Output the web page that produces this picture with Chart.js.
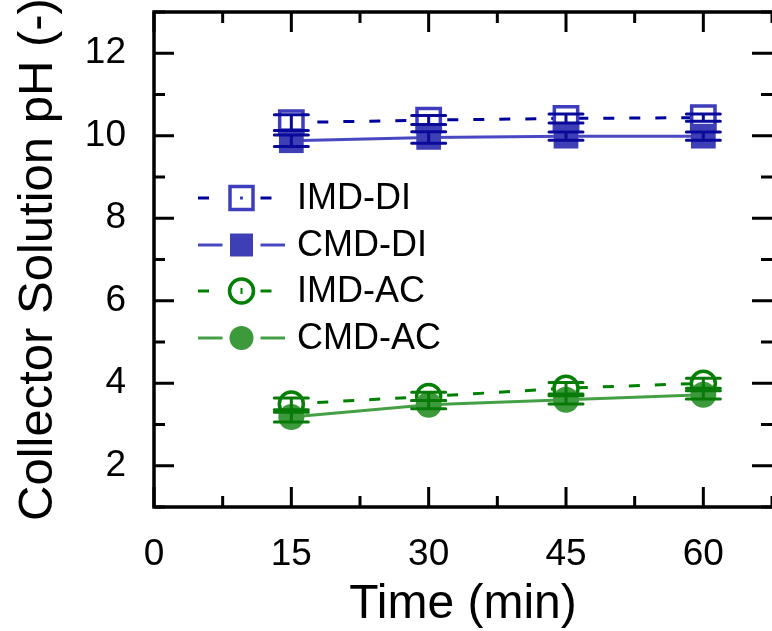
<!DOCTYPE html>
<html>
<head>
<meta charset="utf-8">
<script src="https://cdn.jsdelivr.net/npm/chart.js@4/dist/chart.umd.min.js"></script>
<style>
  html, body { margin: 0; padding: 0; overflow: hidden; background: #fff; width: 772px; height: 631px; }
  canvas { display: block; }
</style>
</head>
<body>
<canvas id="c" width="772" height="631"></canvas>
<script>
// Sampling times (min)
const times = [15, 30, 45, 60];

// Collector solution pH for each configuration
const imdDI = [10.32, 10.38, 10.42, 10.44];
const cmdDI = [9.88, 9.96, 9.99, 9.99];
const imdAC = [3.50, 3.68, 3.88, 4.00];
const cmdAC = [3.18, 3.48, 3.60, 3.72];

// Standard deviations
const imdDIErr = [0.19, 0.11, 0.11, 0.09];
const cmdDIErr = [0.14, 0.14, 0.10, 0.10];
const imdACErr = [0.14, 0.10, 0.14, 0.12];
const cmdACErr = [0.12, 0.10, 0.10, 0.10];

// Series names
const seriesNames = ['IMD-DI', 'CMD-DI', 'IMD-AC', 'CMD-AC'];

// Axis tick labels
const xTickLabels = [0, 15, 30, 45, 60];
const yTickLabels = [2, 4, 6, 8, 10, 12];

const FONT = "'Liberation Sans', Arial, sans-serif";

const pts = (vals) => times.map((t, i) => ({ x: t, y: vals[i] }));

// Frame (left, top, bottom spines; right spine lies just past the canvas edge)
// with inward major/minor ticks on all four sides
const framePlugin = {
  id: 'frame',
  afterDraw(chart) {
    const { ctx, chartArea: a, scales: { x, y } } = chart;
    ctx.save();
    ctx.strokeStyle = '#000';
    ctx.lineCap = 'butt';
    ctx.lineWidth = 3;
    const MAJ = 20, MIN = 11;
    for (let v = 1; v <= 13; v += 1) {
      const py = y.getPixelForValue(v);
      const len = (v % 2 === 0) ? MAJ : MIN;
      ctx.beginPath();
      ctx.moveTo(a.left, py); ctx.lineTo(a.left + len, py);
      ctx.moveTo(a.right, py); ctx.lineTo(a.right - len, py);
      ctx.stroke();
    }
    for (let v = 0; v <= 67.5; v += 7.5) {
      const px = x.getPixelForValue(v);
      const len = (v % 15 === 0) ? MAJ : MIN;
      ctx.beginPath();
      ctx.moveTo(px, a.bottom); ctx.lineTo(px, a.bottom - len);
      ctx.moveTo(px, a.top); ctx.lineTo(px, a.top + len);
      ctx.stroke();
    }
    ctx.lineWidth = 3.5;
    ctx.lineJoin = 'miter';
    ctx.beginPath();
    ctx.moveTo(a.right + 2, a.top);
    ctx.lineTo(a.left, a.top);
    ctx.lineTo(a.left, a.bottom);
    ctx.lineTo(a.right + 2, a.bottom);
    ctx.stroke();
    ctx.restore();
  }
};

// Vertical error bars with caps
const errorBarPlugin = {
  id: 'errorBars',
  afterDatasetsDraw(chart) {
    const { ctx, scales: { x, y } } = chart;
    chart.data.datasets.forEach((ds) => {
      if (!ds.errors) return;
      ctx.save();
      ctx.strokeStyle = ds.errorColor;
      ctx.lineWidth = 3;
      ctx.lineCap = 'round';
      ds.data.forEach((p, j) => {
        const e = ds.errors[j];
        const px = x.getPixelForValue(p.x);
        const yt = y.getPixelForValue(p.y + e);
        const yb = y.getPixelForValue(p.y - e);
        const cw = 17;
        ctx.beginPath();
        ctx.moveTo(px, yt); ctx.lineTo(px, yb);
        ctx.moveTo(px - cw, yt); ctx.lineTo(px + cw, yt);
        ctx.moveTo(px - cw, yb); ctx.lineTo(px + cw, yb);
        ctx.stroke();
      });
      ctx.restore();
    });
  }
};

// Legend drawn inside the plot: line - symbol - line, then the name
const legendPlugin = {
  id: 'insideLegend',
  afterDraw(chart) {
    const { ctx } = chart;
    const rowsY = [198, 245, 291, 338];
    const x0 = 198, x1 = 285, mx = 241.5, gap = 19;
    chart.data.datasets.forEach((ds, i) => {
      const yy = rowsY[i];
      ctx.save();
      ctx.strokeStyle = ds.borderColor;
      ctx.lineWidth = 3;
      ctx.setLineDash(ds.borderDash || []);
      ctx.beginPath();
      ctx.moveTo(x0, yy); ctx.lineTo(mx - gap, yy);
      ctx.stroke();
      ctx.beginPath();
      ctx.moveTo(mx + gap, yy); ctx.lineTo(x1, yy);
      ctx.stroke();
      ctx.setLineDash([]);
      ctx.lineWidth = ds.pointBorderWidth;
      ctx.strokeStyle = ds.pointBorderColor;
      ctx.fillStyle = ds.pointBackgroundColor;
      const half = ds.pointStyle === 'rect' ? 11.5 : 12;
      ctx.beginPath();
      if (ds.pointStyle === 'rect') {
        ctx.rect(mx - half, yy - half, half * 2, half * 2);
      } else {
        ctx.arc(mx, yy, half, 0, Math.PI * 2);
      }
      ctx.fill();
      if (ds.pointBorderWidth > 0) ctx.stroke();
      if (ds.hollow) {
        ctx.fillStyle = ds.pointBorderColor;
        if (ds.pointStyle === 'rect') {
          ctx.fillRect(mx - 1.5, yy - 1.5, 3, 3);
        } else {
          ctx.fillRect(mx - 1, yy - 3, 2, 6);
        }
      }
      ctx.fillStyle = '#000';
      ctx.font = `36px ${FONT}`;
      ctx.textAlign = 'left';
      ctx.textBaseline = 'middle';
      ctx.fillText(ds.label, 297, yy + 1);
      ctx.restore();
    });
  }
};

const chart = new Chart(document.getElementById('c'), {
  type: 'line',
  data: {
    datasets: [
      {
        label: seriesNames[0], data: pts(imdDI), errors: imdDIErr, errorColor: '#0a0a9a',
        borderColor: '#00009c', borderWidth: 3, borderDash: [11, 15],
        pointStyle: 'rect', pointRadius: 16.5, pointBorderWidth: 3.5,
        pointBorderColor: '#3d3dbd', pointBackgroundColor: '#ffffff', hollow: true, order: 4
      },
      {
        label: seriesNames[1], data: pts(cmdDI), errors: cmdDIErr, errorColor: '#0a0a9a',
        borderColor: '#4848c2', borderWidth: 3,
        pointStyle: 'rect', pointRadius: 17.5, pointBorderWidth: 0,
        pointBorderColor: '#3e3eb6', pointBackgroundColor: '#3e3eb6', order: 3
      },
      {
        label: seriesNames[2], data: pts(imdAC), errors: imdACErr, errorColor: '#087a08',
        borderColor: '#008000', borderWidth: 3, borderDash: [11, 15],
        pointStyle: 'circle', pointRadius: 12, pointBorderWidth: 3.5,
        pointBorderColor: '#048004', pointBackgroundColor: '#ffffff', hollow: true, order: 2
      },
      {
        label: seriesNames[3], data: pts(cmdAC), errors: cmdACErr, errorColor: '#087a08',
        borderColor: '#45a045', borderWidth: 3,
        pointStyle: 'circle', pointRadius: 13, pointBorderWidth: 0,
        pointBorderColor: '#3c9a3c', pointBackgroundColor: '#3c9a3c', order: 1
      }
    ]
  },
  options: {
    responsive: false,
    animation: false,
    events: [],
    layout: { autoPadding: false, padding: { left: 0, top: 12, right: -1, bottom: 0 } },
    plugins: { legend: { display: false }, tooltip: { enabled: false } },
    scales: {
      x: {
        type: 'linear', min: 0, max: 67.5,
        grid: { display: false }, border: { display: false },
        ticks: {
          stepSize: 7.5, autoSkip: false, maxRotation: 0, padding: 18,
          color: '#000', font: { family: FONT, size: 37 },
          callback: (v) => xTickLabels.includes(v) ? String(v) : ''
        },
        title: {
          display: true, text: 'Time (min)', color: '#000',
          font: { family: FONT, size: 48, lineHeight: 1.1 }, padding: 0
        },
        afterFit: (s) => { s.height = 124; s.paddingLeft = 0; s.paddingRight = 0; }
      },
      y: {
        min: 1, max: 13,
        grid: { display: false }, border: { display: false },
        ticks: {
          stepSize: 1, autoSkip: false, padding: 20,
          color: '#000', font: { family: FONT, size: 37 },
          callback: (v) => yTickLabels.includes(v) ? String(v) : ''
        },
        title: {
          display: true, text: 'Collector Solution pH (-)', color: '#000',
          font: { family: FONT, size: 49, lineHeight: 1.1 }, padding: 12
        },
        afterFit: (s) => { s.width = 154; s.paddingTop = 0; s.paddingBottom = 0; }
      }
    }
  },
  plugins: [framePlugin, errorBarPlugin, legendPlugin]
});
</script>
</body>
</html>
